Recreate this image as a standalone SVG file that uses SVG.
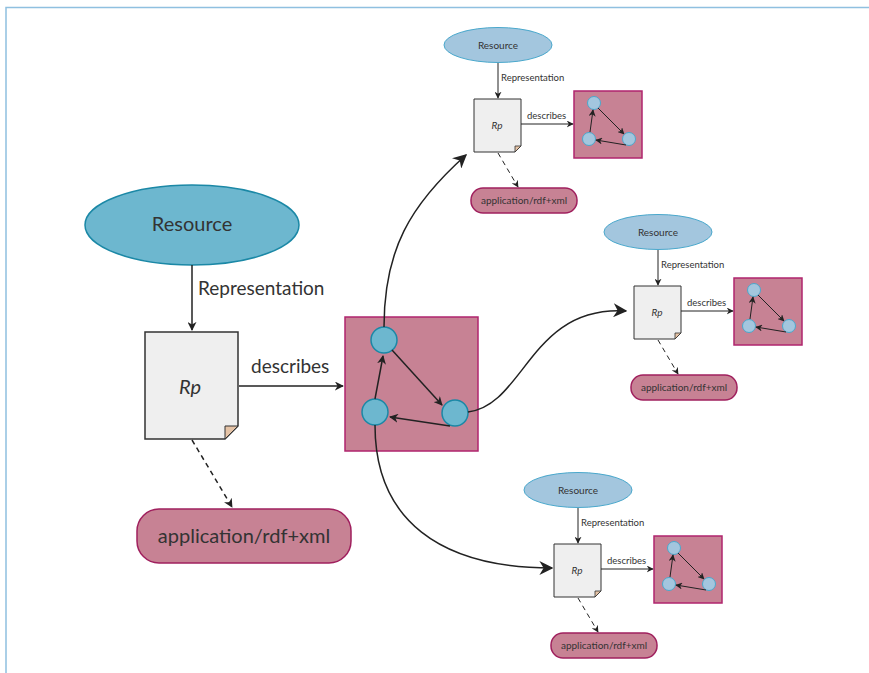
<svg xmlns="http://www.w3.org/2000/svg" width="869" height="673" viewBox="0 0 869 673">
<style>
text{font-family:Lato,"Open Sans","Liberation Sans",sans-serif;fill:#333}
.res{fill:#6db7cf;stroke:#1b88a6;stroke-width:1.5}
.sres{fill:#a3c6de;stroke:#4aa8cc;stroke-width:1}
.doc{fill:#efefef;stroke:#333;stroke-width:1.5}
.sdoc{fill:#efefef;stroke:#333;stroke-width:1}
.fold{fill:#e5c3a6;stroke:#333}
.graph{fill:#c78294;stroke:#b0256e;stroke-width:1.5}
.app{fill:#c78294;stroke:#a0205e;stroke-width:1.5}
.node{fill:#6db7cf;stroke:#1b88a6;stroke-width:1.5}
.snode{fill:#a3c6de;stroke:#4aa8cc;stroke-width:1}
.ln{fill:none;stroke:#222;stroke-width:1.5}
.sln{fill:none;stroke:#222;stroke-width:1}
.dash{stroke-dasharray:5 4}
</style>
<defs>
<marker id="ah" viewBox="0 0 10 10" refX="9" refY="5" markerWidth="9" markerHeight="9" markerUnits="userSpaceOnUse" orient="auto"><path d="M0,0 L10,5 L0,10 L3,5 z" fill="#222"/></marker>
<marker id="ahl" viewBox="0 0 10 10" refX="9" refY="5" markerWidth="14" markerHeight="14" markerUnits="userSpaceOnUse" orient="auto"><path d="M0,0 L10,5 L0,10 L3,5 z" fill="#222"/></marker>
<marker id="ahs" viewBox="0 0 10 10" refX="9" refY="5" markerWidth="7" markerHeight="7" markerUnits="userSpaceOnUse" orient="auto"><path d="M0,0 L10,5 L0,10 L3,5 z" fill="#222"/></marker>
<g id="unit">
  <g id="u-res"><ellipse class="sres" cx="498" cy="45" rx="54" ry="17.5"/><text x="498" y="49" font-size="10" text-anchor="middle">Resource</text></g>
  <g id="u-doc"><path class="sdoc" d="M474,99 H521 V146 L515,152 H474 Z"/><path class="fold" stroke-width="0.8" d="M515,152 V146 H521 Z"/><text x="497" y="129" font-size="10" font-style="italic" text-anchor="middle">Rp</text></g>
  <g id="u-graph"><rect class="graph" x="574" y="91" width="68" height="67" stroke-width="1"/>
    <circle class="snode" cx="594" cy="103" r="6.5"/><circle class="snode" cx="629" cy="139" r="6.5"/><circle class="snode" cx="589" cy="139" r="6.5"/>
    <path class="sln" d="M598,108 L624,134" marker-end="url(#ahs)"/><path class="sln" d="M626,145 L596,140" marker-end="url(#ahs)"/><path class="sln" d="M590,132 L593,110" marker-end="url(#ahs)"/></g>
  <g id="u-app"><rect class="app" x="471" y="188" width="106" height="25" rx="12" stroke-width="1"/><text x="524" y="204" font-size="10" text-anchor="middle">application/rdf+xml</text></g>
  <g id="u-edges">
    <path class="sln" d="M498,63 V98" marker-end="url(#ahs)"/><text x="501" y="81" font-size="9.5">Representation</text>
    <path class="sln" d="M521,124 H573" marker-end="url(#ahs)"/><text x="527" y="119" font-size="9.5">describes</text>
    <path class="sln dash" d="M498,153 L518,187" marker-end="url(#ahs)"/>
  </g>
</g>
</defs>
<path d="M6,673 V7.5 H869" fill="none" stroke="#8fc0e0" stroke-width="1.5"/>
<g id="resource"><ellipse class="res" cx="192" cy="225" rx="107" ry="40"/><text x="192" y="231" font-size="20" text-anchor="middle">Resource</text></g>
<g id="rp"><path class="doc" d="M145,332 H238 V426 L225,439 H145 Z"/><path class="fold" d="M225,439 V426 H238 Z"/><text x="190" y="394" font-size="20" font-style="italic" text-anchor="middle">Rp</text></g>
<g id="graph"><rect class="graph" x="345" y="317" width="133" height="134"/>
  <circle id="n1" class="node" cx="384" cy="340" r="13"/><circle id="n2" class="node" cx="455" cy="413" r="13"/><circle id="n3" class="node" cx="375" cy="412" r="13"/>
</g>
<g id="mime"><rect class="app" x="137" y="509" width="214" height="54" rx="22"/><text x="244" y="543" font-size="20" text-anchor="middle">application/rdf+xml</text></g>
<g id="connectors">
  <path class="ln" d="M192,265 V330" marker-end="url(#ah)"/>
  <text x="198" y="295" font-size="19">Representation</text>
  <path class="ln" d="M239,386 H343" marker-end="url(#ah)"/>
  <text x="251" y="373" font-size="19">describes</text>
  <path class="ln dash" d="M192,440 L232,507" marker-end="url(#ah)"/>
  <path class="ln" d="M392,350 L442,405" marker-end="url(#ah)"/>
  <path class="ln" d="M450,426 L390,417" marker-end="url(#ah)"/>
  <path class="ln" d="M375,399 L383,356" marker-end="url(#ah)"/>
  <path class="ln" d="M384,327 C384,250 410,205 466,155" marker-end="url(#ahl)"/>
  <path class="ln" d="M468,412 C525,405 530,305 626,311" marker-end="url(#ahl)"/>
  <path class="ln" d="M375,425 C375,520 440,568 552,568" marker-end="url(#ahl)"/>
</g>
<g id="unit-1"><use href="#unit"/></g>
<g id="unit-2" transform="translate(160,187)"><use href="#unit"/></g>
<g id="unit-3" transform="translate(80,445)"><use href="#unit"/></g>
</svg>
